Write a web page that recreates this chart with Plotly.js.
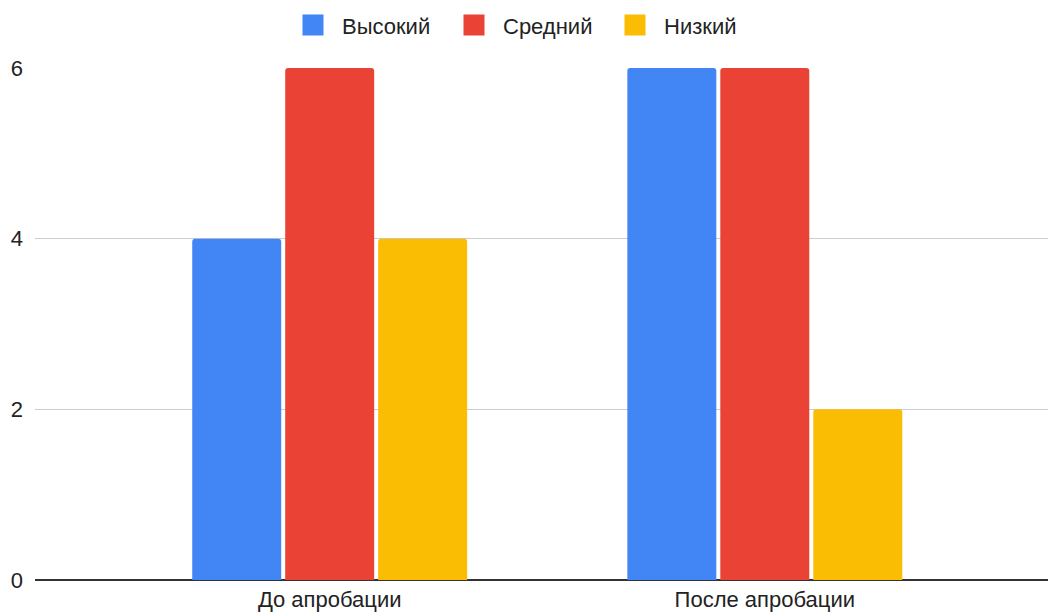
<!DOCTYPE html>
<html>
<head>
<meta charset="utf-8">
<script src="https://cdn.plot.ly/plotly-3.0.1.min.js"></script>
<style>html,body{margin:0;padding:0;background:#fff;}#chart{width:1048px;height:612px;}</style>
</head>
<body>
<div id="chart"></div>
<script>
const categories = ["До апробации", "После апробации"];
const seriesNames = ["Высокий", "Средний", "Низкий"];
const high = [4, 6];
const medium = [6, 6];
const low = [4, 2];
const colors = ["#4285F4", "#EA4335", "#FBBC04"];
const yTicks = [0, 2, 4, 6];

const xIdx = categories.map((c, i) => i);
const values = [high, medium, low];
const traces = values.map((v, k) => ({
  type: "bar",
  name: seriesNames[k],
  legendgroup: seriesNames[k],
  showlegend: false,
  x: xIdx,
  y: v,
  marker: {color: colors[k], line: {width: 0}},
  hoverinfo: "skip"
}));
// legend entries with larger square swatches
values.forEach((v, k) => traces.push({
  type: "scatter", mode: "markers",
  name: seriesNames[k], legendgroup: seriesNames[k],
  x: [null], y: [null],
  marker: {color: colors[k], symbol: "square", size: 16, line: {color: colors[k], width: 5}},
  hoverinfo: "skip"
}));

const FONT = "Arial, 'Liberation Sans', sans-serif";
const layout = {
  width: 1048, height: 612,
  margin: {l: 35, r: 0, t: 68, b: 31.5},
  paper_bgcolor: "#fff", plot_bgcolor: "#fff",
  font: {family: FONT, size: 22, color: "#222"},
  barmode: "group",
  bargap: 0.359,
  bargroupgap: 0.043,
  barcornerradius: 3,
  showlegend: true,
  legend: {orientation: "h", x: 0.4842, xanchor: "center", y: 0.993, yref: "container", yanchor: "top",
           font: {family: FONT, size: 22, color: "#222"}, itemsizing: "trace",
           itemwidth: 48, entrywidth: 98, entrywidthmode: "pixels"},
  xaxis: {
    range: [-0.6773, 1.6509],
    tickmode: "array", tickvals: xIdx, ticktext: categories,
    showgrid: false, zeroline: false,
    showline: false, ticks: "", tickfont: {family: FONT, size: 22, color: "#222"},
    ticklabelstandoff: 4
  },
  yaxis: {
    range: [0, 6],
    tickmode: "array", tickvals: yTicks, ticktext: yTicks.map(String),
    showgrid: true, gridcolor: "#cccccc", gridwidth: 1,
    zeroline: true, zerolinecolor: "#333333", zerolinewidth: 2,
    showline: false, ticks: "", tickfont: {family: FONT, size: 22, color: "#222"},
    ticklabelstandoff: 11
  }
};

Plotly.newPlot("chart", traces, layout, {displayModeBar: false, staticPlot: true});
</script>
</body>
</html>
